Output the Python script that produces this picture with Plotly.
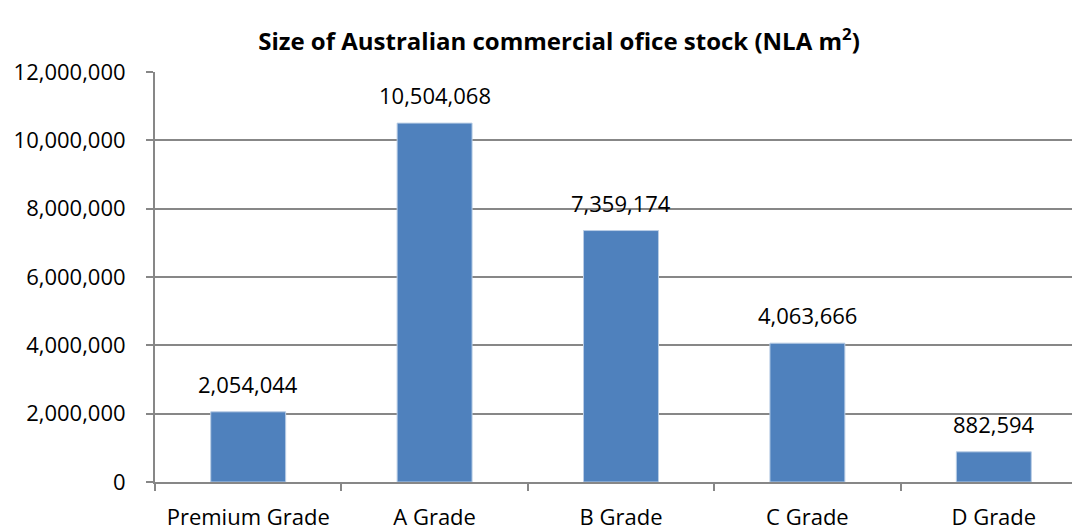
import plotly.graph_objects as go

categories = ["Premium Grade", "A Grade", "B Grade", "C Grade", "D Grade"]
values = [2054044, 10504068, 7359174, 4063666, 882594]
y_ticks = [0, 2000000, 4000000, 6000000, 8000000, 10000000, 12000000]
y_tick_labels = ["0", "2,000,000", "4,000,000", "6,000,000", "8,000,000", "10,000,000", "12,000,000"]

font = "Open Sans"
grid = "#878787"

fig = go.Figure(go.Bar(
    x=categories, y=values,
    marker=dict(color="#4F81BD", line=dict(color="#B9CDE5", width=1)),
))

for c, v in zip(categories, values):
    fig.add_annotation(x=c, y=v, text=f"{v:,}", showarrow=False,
                       yanchor="bottom", yshift=11,
                       font=dict(family=font, size=22, color="black"))

fig.update_layout(
    width=1080, height=531,
    margin=dict(l=147, r=1, t=64, b=57),
    paper_bgcolor="white", plot_bgcolor="white",
    bargap=0.598,
    showlegend=False,
    title=dict(text="<b>Size of Australian commercial ofice stock (NLA m<sup>2</sup>)</b>",
               x=(258 + 860) / 2 / 1080 - 8 / 1080, xanchor="center", y=0.936, yanchor="middle",
               font=dict(family=font, size=24, color="black")),
    font=dict(family=font, size=22, color="black"),
)
fig.update_xaxes(
    showline=True, linecolor=grid, linewidth=2, automargin=False,
    ticks="outside", tickson="boundaries", ticklen=7, tickcolor=grid, tickwidth=2,
    tickfont=dict(family=font, size=22), showgrid=False, ticklabelstandoff=15,
)
fig.update_yaxes(
    range=[0, 12000000], tickvals=y_ticks, ticktext=y_tick_labels, automargin=False,
    showline=True, linecolor=grid, linewidth=2,
    ticks="outside", ticklen=7, tickcolor=grid, tickwidth=2,
    showgrid=True, gridcolor=grid, gridwidth=2, zeroline=False,
    tickfont=dict(family=font, size=22), ticklabelstandoff=16,
)

fig.write_html("out.html")
